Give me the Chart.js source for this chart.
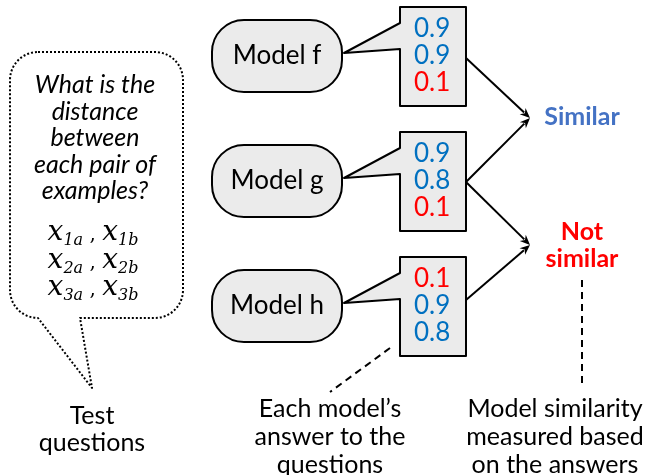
<!DOCTYPE html>
<html>
<head>
<meta charset="utf-8">
<script src="https://cdn.jsdelivr.net/npm/chart.js@4.4.1/dist/chart.umd.min.js"></script>
<style>
  html, body { margin: 0; padding: 0; background: #fff; }
  #wrap { width: 650px; height: 475px; }
</style>
</head>
<body>
<div id="wrap"><canvas id="diagram" width="650" height="475"></canvas></div>
<script>
// --- data ---
const models = ['Model f', 'Model g', 'Model h'];
const answers = [
  [0.9, 0.9, 0.1],
  [0.9, 0.8, 0.1],
  [0.1, 0.9, 0.8]
];
const verdicts = ['Similar', 'Not similar'];
const questionText = ['What is the', 'distance', 'between', 'each pair of', 'examples?'];
const pairs = [['1a', '1b'], ['2a', '2b'], ['3a', '3b']];
const captionQuestions = ['Test', 'questions'];
const captionAnswers = ["Each model\u2019s", 'answer to the', 'questions'];
const captionSimilarity = ['Model similarity', 'measured based', 'on the answers'];
// which model rows feed which verdict
const links = [[0, 0], [1, 0], [1, 1], [2, 1]];

// --- layout (diagram units = px of the original) ---
const rowTop = [7, 132, 257];
const FONT = 'Lato, "Liberation Sans", sans-serif';
const MATH = '"DejaVu Serif", serif';
const BLUE = '#0070c0', RED = '#ff0000', VERDICT_BLUE = '#4472c4';

const diagramPlugin = {
  id: 'diagram',
  afterDraw(chart) {
    const ctx = chart.ctx;
    const sx = v => chart.scales.x.getPixelForValue(v);
    const sy = v => chart.scales.y.getPixelForValue(v);
    ctx.save();
    ctx.lineJoin = 'round';

    // dotted speech bubble
    const L = 10, T = 52, R = 183, B = 318, r = 28;
    ctx.beginPath();
    ctx.moveTo(sx(L + r), sy(T));
    ctx.lineTo(sx(R - r), sy(T));
    ctx.arcTo(sx(R), sy(T), sx(R), sy(T + r), r);
    ctx.lineTo(sx(R), sy(B - r));
    ctx.arcTo(sx(R), sy(B), sx(R - r), sy(B), r);
    ctx.lineTo(sx(80), sy(B));
    ctx.lineTo(sx(92), sy(388));
    ctx.lineTo(sx(L + r), sy(B));
    ctx.arcTo(sx(L), sy(B), sx(L), sy(B - r), r);
    ctx.lineTo(sx(L), sy(T + r));
    ctx.arcTo(sx(L), sy(T), sx(L + r), sy(T), r);
    ctx.closePath();
    ctx.setLineDash([2, 2]);
    ctx.lineWidth = 2;
    ctx.strokeStyle = '#000';
    ctx.stroke();
    ctx.setLineDash([]);

    ctx.fillStyle = '#000';
    ctx.textAlign = 'center';
    ctx.textBaseline = 'middle';
    ctx.font = 'italic 25px ' + FONT;
    questionText.forEach((t, i) => ctx.fillText(t, sx(95), sy(85 + i * 26.5)));

    // x_{ia}, x_{ib}
    pairs.forEach((p, i) => {
      const base = sy(240 + i * 27.5);
      const parts = [
        ['x', 'italic 28px ' + MATH, 0],
        [p[0], 'italic 16px ' + MATH, 5],
        [' , ', '20px ' + MATH, 0],
        ['x', 'italic 28px ' + MATH, 0],
        [p[1], 'italic 16px ' + MATH, 5]
      ];
      let w = 0;
      parts.forEach(q => { ctx.font = q[1]; w += ctx.measureText(q[0]).width; });
      let x = sx(93) - w / 2;
      ctx.textAlign = 'left';
      ctx.textBaseline = 'alphabetic';
      parts.forEach(q => {
        ctx.font = q[1];
        ctx.fillText(q[0], x, base + q[2]);
        x += ctx.measureText(q[0]).width;
      });
    });

    ctx.textAlign = 'center';
    ctx.textBaseline = 'middle';
    ctx.font = '25px ' + FONT;
    captionQuestions.forEach((t, i) => ctx.fillText(t, sx(92), sy(416 + i * 27)));

    // model pills and answer callouts
    models.forEach((m, i) => {
      const t = rowTop[i];
      ctx.beginPath();
      ctx.roundRect(sx(212), sy(t + 13), sx(342) - sx(212), sy(t + 85) - sy(t + 13), 32);
      ctx.fillStyle = '#ebebeb';
      ctx.fill();
      ctx.lineWidth = 2;
      ctx.strokeStyle = '#000';
      ctx.stroke();
      ctx.fillStyle = '#000';
      ctx.font = '26px ' + FONT;
      ctx.fillText(m, sx(277), sy(t + 49));

      ctx.beginPath();
      ctx.moveTo(sx(400), sy(t));
      ctx.lineTo(sx(466), sy(t));
      ctx.lineTo(sx(466), sy(t + 99));
      ctx.lineTo(sx(400), sy(t + 99));
      ctx.lineTo(sx(400), sy(t + 42));
      ctx.lineTo(sx(344), sy(t + 46));
      ctx.lineTo(sx(400), sy(t + 16));
      ctx.closePath();
      ctx.fillStyle = '#ebebeb';
      ctx.fill();
      ctx.stroke();

      ctx.textAlign = 'left';
      ctx.font = '26px ' + FONT;
      answers[i].forEach((v, j) => {
        ctx.fillStyle = v >= 0.5 ? BLUE : RED;
        ctx.fillText(v.toFixed(1), sx(414), sy(t + 22 + j * 27));
      });
      ctx.textAlign = 'center';
    });

    // arrows to verdicts
    const verdictY = [118, 245];
    const startY = [58, 182, 182, 300];
    links.forEach((lk, k) => {
      const x0 = sx(466), y0 = sy(startY[k]);
      const x1 = sx(530), y1 = sy(verdictY[lk[1]]);
      const a = Math.atan2(y1 - y0, x1 - x0);
      ctx.beginPath();
      ctx.moveTo(x0, y0);
      ctx.lineTo(x1 - 8 * Math.cos(a), y1 - 8 * Math.sin(a));
      ctx.strokeStyle = '#000';
      ctx.lineWidth = 2;
      ctx.stroke();
      ctx.beginPath();
      ctx.moveTo(x1, y1);
      ctx.lineTo(x1 - 11 * Math.cos(a - 0.4), y1 - 11 * Math.sin(a - 0.4));
      ctx.lineTo(x1 - 7 * Math.cos(a), y1 - 7 * Math.sin(a));
      ctx.lineTo(x1 - 11 * Math.cos(a + 0.4), y1 - 11 * Math.sin(a + 0.4));
      ctx.closePath();
      ctx.fillStyle = '#000';
      ctx.fill();
    });

    ctx.font = 'bold 25px ' + FONT;
    ctx.fillStyle = VERDICT_BLUE;
    ctx.fillText(verdicts[0], sx(582), sy(117));
    ctx.fillStyle = RED;
    verdicts[1].split(' ').forEach((w, i) => ctx.fillText(w, sx(582), sy(232 + i * 27)));

    // dashed pointers
    ctx.strokeStyle = '#000';
    ctx.lineWidth = 2;
    ctx.setLineDash([7, 5]);
    ctx.beginPath();
    ctx.moveTo(sx(390), sy(348));
    ctx.lineTo(sx(330), sy(392));
    ctx.moveTo(sx(582), sy(280));
    ctx.lineTo(sx(582), sy(384));
    ctx.stroke();
    ctx.setLineDash([]);

    ctx.fillStyle = '#000';
    ctx.font = '25px ' + FONT;
    captionAnswers.forEach((t, i) => ctx.fillText(t, sx(330), sy(409 + i * 28)));
    captionSimilarity.forEach((t, i) => ctx.fillText(t, sx(555), sy(409 + i * 28)));
    ctx.restore();
  }
};

new Chart(document.getElementById('diagram'), {
  type: 'scatter',
  data: { datasets: [{ data: [], pointRadius: 0 }] },
  options: {
    responsive: false,
    animation: false,
    devicePixelRatio: 1,
    layout: { padding: 0 },
    plugins: { legend: { display: false }, tooltip: { enabled: false } },
    scales: {
      x: { type: 'linear', min: 0, max: 650, display: false },
      y: { type: 'linear', min: 0, max: 475, reverse: true, display: false }
    }
  },
  plugins: [diagramPlugin]
});
</script>
</body>
</html>
